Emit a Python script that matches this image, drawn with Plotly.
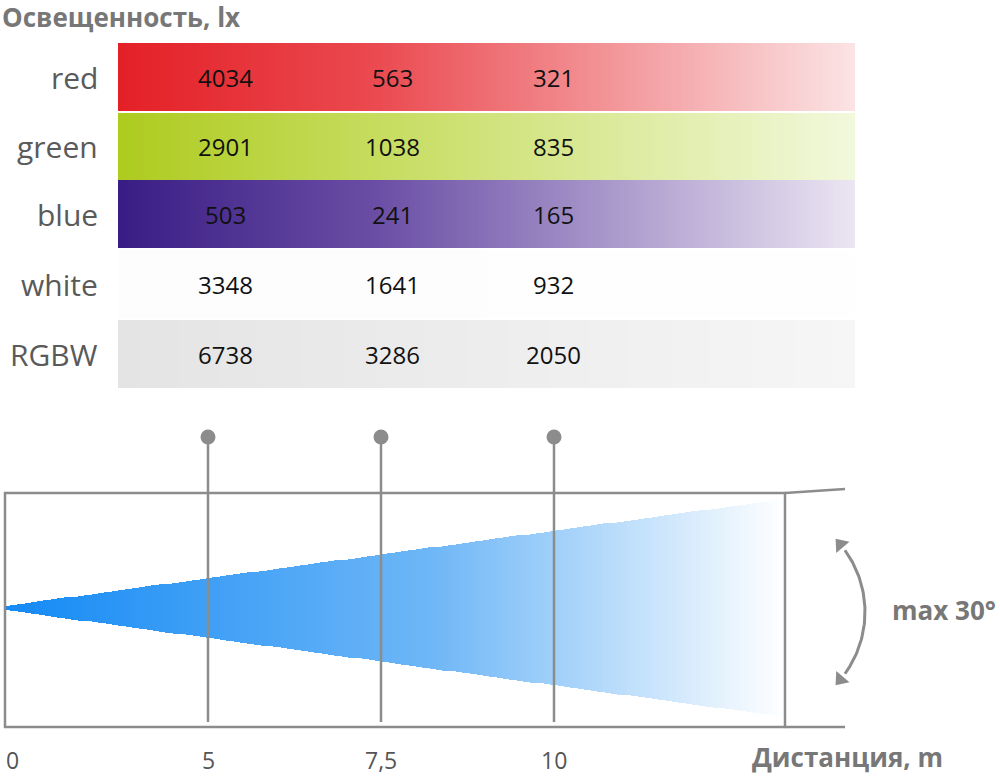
import plotly.graph_objects as go
import numpy as np

# data
rows = ["red", "green", "blue", "white", "RGBW"]
distances = ["5", "7,5", "10"]
values = {
    "red": [4034, 563, 321],
    "green": [2901, 1038, 835],
    "blue": [503, 241, 165],
    "white": [3348, 1641, 932],
    "RGBW": [6738, 3286, 2050],
}
row_colors = {
    "red": [(0, "#e42027"), (0.35, "#ea4a50"), (1, "#fbe3e4")],
    "green": [(0, "#aecb1f"), (0.35, "#c6dc5e"), (1, "#f2f8dc")],
    "blue": [(0, "#3a1d84"), (0.35, "#6a4ea5"), (1, "#ebe5f2")],
    "white": [(0, "#fdfdfd"), (1, "#fefefe")],
    "RGBW": [(0, "#e4e4e4"), (1, "#f6f6f6")],
}

# layout helpers (pixel space)
row_top = [43, 113, 180, 250, 320]
row_h = [68, 67, 68, 68, 68]
bar_x0, bar_x1 = 118, 855
col_x = [225, 392, 553]
dist_x = [208, 381, 554]
gray = "#8c8c8c"

fig = go.Figure()
edges = np.linspace(bar_x0, bar_x1, 301)
mids = (edges[:-1] + edges[1:]) / 2
for r, top, h in zip(rows, row_top, row_h):
    fig.add_trace(go.Heatmap(
        x=edges, y=[top, top + h], z=[mids], colorscale=row_colors[r],
        showscale=False, hoverinfo="skip"))

# beam gradient
bx = np.linspace(5, 785, 500)
by = np.linspace(498, 719, 240)
X, Y = np.meshgrid(bx, by)
half = 2 + (X - 5) / 780 * 107
Z = np.where(np.abs(Y - 608) <= half, X, np.nan)
fig.add_trace(go.Heatmap(
    x=bx, y=by, z=Z, showscale=False, hoverinfo="skip",
    colorscale=[(0, "#148af5"), (0.55, "#6fb7f6"), (1, "#ffffff")]))

line = dict(color=gray, width=2.5)
fig.add_shape(type="rect", x0=5, x1=785, y0=493, y1=727, line=line)
fig.add_shape(type="line", x0=785, x1=845, y0=493, y1=489, line=line)
fig.add_shape(type="line", x0=785, x1=845, y0=727, y1=727, line=line)
for x in dist_x:
    fig.add_shape(type="line", x0=x, x1=x, y0=437, y1=722, line=line)
fig.add_trace(go.Scatter(x=dist_x, y=[437] * 3, mode="markers",
                         marker=dict(size=15, color=gray), hoverinfo="skip"))

# angle arc
t = np.radians(np.linspace(-36, 36, 60))
fig.add_trace(go.Scatter(x=760 + 105 * np.cos(t), y=612 + 105 * np.sin(t),
                         mode="lines", line=dict(color=gray, width=3), hoverinfo="skip"))
te = np.radians([-40, 40])
fig.add_trace(go.Scatter(x=760 + 105 * np.cos(te), y=612 + 105 * np.sin(te), mode="markers",
                         marker=dict(symbol="triangle-up", size=15, color=gray, angle=[-40, 220]),
                         hoverinfo="skip"))

ann = []
ann.append(dict(x=0, y=17, text="<b>Освещенность, lx</b>", xanchor="left",
                font=dict(size=26, color="#777")))
for r, top, h in zip(rows, row_top, row_h):
    ann.append(dict(x=100, y=top + h / 2, text=r, xanchor="right",
                    font=dict(size=30, color="#5a5a5a")))
    for v, cx in zip(values[r], col_x):
        ann.append(dict(x=cx, y=top + h / 2, text=str(v),
                        font=dict(size=24, color="#111")))
ann.append(dict(x=12, y=760, text="0", font=dict(size=23, color="#555")))
for d, x in zip(distances, dist_x):
    ann.append(dict(x=x, y=760, text=d, font=dict(size=23, color="#555")))
ann.append(dict(x=945, y=757, text="<b>Дистанция, m</b>", xanchor="right",
                font=dict(size=26, color="#777")))
ann.append(dict(x=944, y=610, text="<b>max 30°</b>", font=dict(size=26, color="#777")))
for a in ann:
    a.update(xref="x", yref="y", showarrow=False)
    a["font"]["family"] = "Open Sans"

fig.update_layout(
    width=1000, height=777, margin=dict(l=0, r=0, t=0, b=0),
    plot_bgcolor="white", paper_bgcolor="white", showlegend=False,
    annotations=ann,
    xaxis=dict(range=[0, 1000], visible=False, fixedrange=True),
    yaxis=dict(range=[777, 0], visible=False, fixedrange=True),
)
fig.write_html("out.html", config={"displayModeBar": False},
               post_script="document.body.style.margin='0';")
